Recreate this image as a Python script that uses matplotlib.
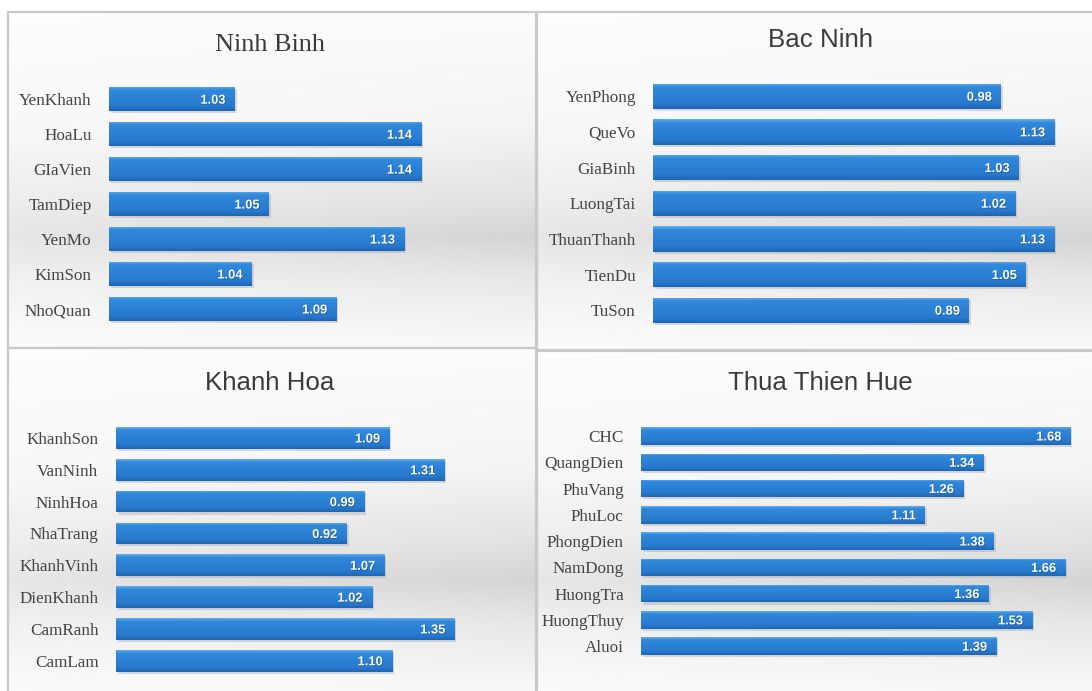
import numpy as np
import matplotlib.pyplot as plt
from matplotlib import patheffects as pe
from matplotlib.colors import LinearSegmentedColormap

# District index values per province
ninh_binh_districts = ["YenKhanh", "HoaLu", "GIaVien", "TamDiep", "YenMo", "KimSon", "NhoQuan"]
ninh_binh_values = [1.03, 1.14, 1.14, 1.05, 1.13, 1.04, 1.09]

bac_ninh_districts = ["YenPhong", "QueVo", "GiaBinh", "LuongTai", "ThuanThanh", "TienDu", "TuSon"]
bac_ninh_values = [0.98, 1.13, 1.03, 1.02, 1.13, 1.05, 0.89]

khanh_hoa_districts = ["KhanhSon", "VanNinh", "NinhHoa", "NhaTrang", "KhanhVinh",
                       "DienKhanh", "CamRanh", "CamLam"]
khanh_hoa_values = [1.09, 1.31, 0.99, 0.92, 1.07, 1.02, 1.35, 1.10]

hue_districts = ["CHC", "QuangDien", "PhuVang", "PhuLoc", "PhongDien", "NamDong",
                 "HuongTra", "HuongThuy", "Aluoi"]
hue_values = [1.68, 1.34, 1.26, 1.11, 1.38, 1.66, 1.36, 1.53, 1.39]

W, H = 1092, 691
fig = plt.figure(figsize=(W / 100, H / 100), dpi=100)
fig.patch.set_facecolor("white")


def px_axes(x0, y0, x1, y1, zorder=0):
    """Axes placed by a pixel box measured from the top-left corner."""
    return fig.add_axes([x0 / W, 1 - y1 / H, (x1 - x0) / W, (y1 - y0) / H], zorder=zorder)


# Soft grey panel backdrop: light at the top, a grey band two-thirds down, light again below
t = np.linspace(0, 1, 300)[:, None]
s = np.linspace(0, 1, 200)[None, :]
tp = [0.0, 0.35, 0.55, 0.67, 0.80, 1.0]
dark = [0.01, 0.04, 0.10, 0.15, 0.08, 0.02]
shade = np.interp(t.ravel(), tp, dark)[:, None] * (0.65 + 0.45 * s)
backdrop = np.clip(1.0 - shade, 0, 1)
backdrop_rgb = np.dstack([backdrop, backdrop, backdrop])


def panel(x0, y0, x1, y1):
    ax = px_axes(x0, y0, x1, y1, zorder=0)
    ax.imshow(backdrop_rgb, extent=[0, 1, 0, 1], aspect="auto", interpolation="bilinear")
    ax.set_xticks([])
    ax.set_yticks([])
    for sp in ax.spines.values():
        sp.set_color("#c9c9c9")
        sp.set_linewidth(1.6)
    return ax


panel(8, 12, 536, 348)
panel(537, 12, 1096, 350)
panel(8, 348, 536, 695)
panel(537, 351, 1096, 695)

bar_cmap = LinearSegmentedColormap.from_list(
    "bar", [(0.0, "#62adf0"), (0.14, "#3189db"), (0.8, "#2779cd"), (1.0, "#1c67b6")])
grad = np.linspace(0, 1, 64)[:, None]


def bar_panel(box, names, values, xlim, bar_h):
    ax = px_axes(*box, zorder=2)
    ax.set_facecolor("none")
    n = len(names)
    pos = np.arange(n)
    base = xlim[0]
    vals = np.asarray(values)
    bars = ax.barh(pos, vals - base, height=bar_h, left=base, color="#2a80d6", linewidth=0)
    for b in bars:
        b.set_path_effects([pe.SimplePatchShadow(offset=(1.5, -1.5), shadow_rgbFace="#9a9a9a",
                                                 alpha=0.35), pe.Normal()])
        x0b, y0b = b.get_x(), b.get_y()
        im = ax.imshow(grad, cmap=bar_cmap, aspect="auto", interpolation="bilinear",
                       extent=[x0b, x0b + b.get_width(), y0b + b.get_height(), y0b], zorder=3)
        im.set_clip_path(b)
    ax.set_xlim(*xlim)
    ax.set_ylim(n - 0.5, -0.5)
    ax.set_yticks(pos)
    ax.set_yticklabels(names, fontfamily="Liberation Serif", fontsize=12.3, color="#444444")
    ax.tick_params(axis="y", length=0, pad=12.3)
    ax.set_xticks([])
    for sp in ax.spines.values():
        sp.set_visible(False)
    for p, v in zip(pos, values):
        ax.annotate(f"{v:.2f}", xy=(v, p), xytext=(-9, 0), textcoords="offset pixels",
                    ha="right", va="center_baseline", fontfamily="Liberation Sans",
                    fontweight="bold", fontsize=9.3, color="white", zorder=5,
                    path_effects=[pe.withSimplePatchShadow(offset=(0.6, -0.6),
                                                           shadow_rgbFace="#0b3f7a", alpha=0.5)])
    return ax


# Ninh Binh: value axis starts just below the smallest index
bar_panel((108.6, 81.7, 500, 326.5), ninh_binh_districts, ninh_binh_values,
          (0.9557, 0.9557 + 391.4 / 1695), 0.69)
bar_panel((653, 78.4, 1085, 328.0), bac_ninh_districts, bac_ninh_values,
          (0, 432 / 355), 0.71)
bar_panel((115.5, 422.1, 500, 676.7), khanh_hoa_districts, khanh_hoa_values,
          (0, 384.5 / 251), 0.68)
bar_panel((641, 422.9, 1085, 659.3), hue_districts, hue_values,
          (0, 444 / 255.6), 0.67)

title_color = "#3b3b3b"
fig.text(270 / W, 1 - 45 / H, "Ninh Binh", ha="center", va="center",
         fontfamily="Liberation Serif", fontsize=18.9, color=title_color)
fig.text(820 / W, 1 - 40 / H, "Bac Ninh", ha="center", va="center",
         fontfamily="Liberation Sans", fontsize=18.6, color=title_color)
fig.text(270 / W, 1 - 383 / H, "Khanh Hoa", ha="center", va="center",
         fontfamily="Liberation Sans", fontsize=18.6, color=title_color)
fig.text(820 / W, 1 - 383 / H, "Thua Thien Hue", ha="center", va="center",
         fontfamily="Liberation Sans", fontsize=18.6, color=title_color)

fig.savefig("out.png", dpi=100, facecolor="white")
